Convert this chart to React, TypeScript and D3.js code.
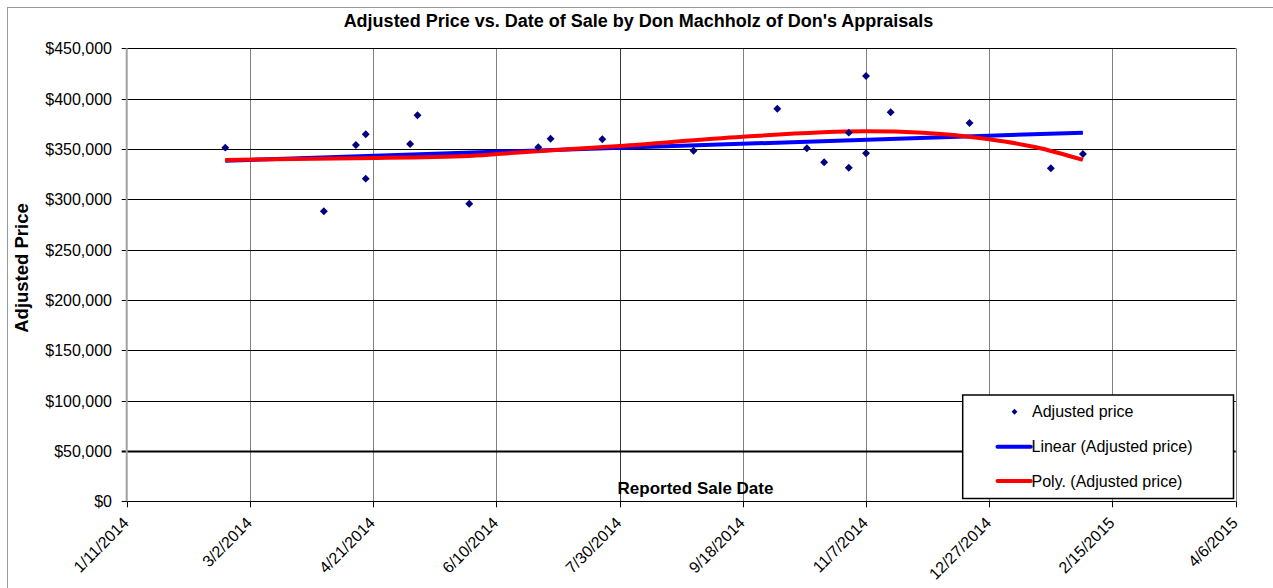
import * as d3 from 'd3'
import { useMemo } from 'react'

// values
const saleDates = [
  '2/20/2014', '4/1/2014', '4/14/2014', '4/18/2014', '4/18/2014', '5/6/2014', '5/9/2014', '5/30/2014',
  '6/27/2014', '7/2/2014', '7/23/2014', '8/29/2014', '10/2/2014', '10/14/2014', '10/21/2014', '10/31/2014',
  '10/31/2014', '11/7/2014', '11/7/2014', '11/17/2014', '12/19/2014', '1/21/2015', '2/3/2015',
]
const adjustedPrices = [
  351300, 288100, 354000, 364600, 320500, 355000, 383500, 295600, 351700, 360200, 359600, 348300, 390000,
  350700, 336800, 366200, 331400, 422500, 345700, 386400, 375800, 330800, 345000,
]

const linearDates = ['2/20/2014', '2/3/2015']
const linearValues = [338400, 366200]

const polyDates = [
  '2/20/2014', '4/14/2014', '5/30/2014', '6/19/2014', '7/30/2014', '9/18/2014', '11/7/2014', '11/30/2014',
  '12/27/2014', '1/15/2015', '2/3/2015',
]
const polyValues = [339100, 340800, 343000, 346500, 353000, 362200, 367500, 366200, 359600, 351700, 339100]

const xTickLabels = [
  '1/11/2014', '3/2/2014', '4/21/2014', '6/10/2014', '7/30/2014', '9/18/2014', '11/7/2014', '12/27/2014',
  '2/15/2015', '4/6/2015',
]
const yTicks = [0, 50000, 100000, 150000, 200000, 250000, 300000, 350000, 400000, 450000]

const legendLabels = ['Adjusted price', 'Linear (Adjusted price)', 'Poly. (Adjusted price)']

const W = 1273
const H = 588
const FONT = "'Liberation Sans', Arial, sans-serif"
const parse = d3.utcParse('%m/%d/%Y')

export default function App() {
  const x = useMemo(
    () =>
      d3
        .scaleUtc()
        .domain([parse(xTickLabels[0])!, parse(xTickLabels[xTickLabels.length - 1])!])
        .range([126.7, 1235.7]),
    []
  )
  const y = useMemo(() => d3.scaleLinear().domain([0, 450000]).range([501.3, 48.3]), [])

  const points = saleDates.map((d, i) => ({ date: parse(d)!, value: adjustedPrices[i] }))
  const linear = linearDates.map((d, i) => ({ date: parse(d)!, value: linearValues[i] }))
  const poly = polyDates.map((d, i) => ({ date: parse(d)!, value: polyValues[i] }))

  const line = d3
    .line<{ date: Date; value: number }>()
    .x((p) => x(p.date))
    .y((p) => y(p.value))
  const linLine = line(linear) ?? ''
  const polyLine = line.curve(d3.curveMonotoneX)(poly) ?? ''

  const diamond = d3.symbol(d3.symbolDiamond2, 40)()
  const smallDiamond = d3.symbol(d3.symbolDiamond2, 22)()

  const [x0, x1] = x.range()
  const [yBottom, yTop] = y.range()

  const legend = { left: 962.7, top: 395, width: 270.8, height: 103.5 }

  return (
    <svg
      width={W}
      height={H}
      style={{ position: 'absolute', left: 0, top: 0, background: '#fff', fontFamily: FONT }}
    >
      {/* chart area border (only top and left visible) */}
      <rect x={7.5} y={7.5} width={W + 20} height={H + 20} fill="#fff" stroke="#9a9a9a" strokeWidth={1} />

      <text x={638.5} y={27} textAnchor="middle" fontSize={18} fontWeight="bold" fill="#000">
        Adjusted Price vs. Date of Sale by Don Machholz of Don's Appraisals
      </text>

      {/* vertical grid */}
      {xTickLabels.map((t, i) => {
        const px = Math.round(x(parse(t)!)) + 0.5
        const dark = t === '7/30/2014'
        return (
          <g key={t}>
            {i > 0 && <line x1={px} x2={px} y1={yTop} y2={yBottom} stroke={dark ? '#3a3a3a' : '#808080'} strokeWidth={1} />}
            <line x1={px} x2={px} y1={yBottom} y2={yBottom + 6} stroke="#000" strokeWidth={1} />
          </g>
        )
      })}

      {/* horizontal grid */}
      {yTicks.map((v) => {
        const py = Math.round(y(v)) + 0.5
        return (
          <g key={v}>
            <line
              x1={x0 - 5}
              x2={x1}
              y1={py}
              y2={py}
              stroke="#000"
              strokeWidth={v === 50000 ? 2.2 : 1}
            />
            <text x={112} y={py} dy="0.36em" textAnchor="end" fontSize={16} fill="#000">
              {d3.format('$,')(v)}
            </text>
          </g>
        )
      })}

      {/* left axis */}
      <line x1={x0} x2={x0} y1={yTop} y2={yBottom} stroke="#a0a0a0" strokeWidth={2} />

      {/* x tick labels */}
      {xTickLabels.map((t) => (
        <text
          key={t}
          transform={`translate(${x(parse(t)!) + 3},524) rotate(-45)`}
          textAnchor="end"
          fontSize={16}
          fill="#000"
        >
          {t}
        </text>
      ))}

      <text x={695.5} y={494} textAnchor="middle" fontSize={17} fontWeight="bold" fill="#000">
        Reported Sale Date
      </text>
      <text transform="translate(28,268) rotate(-90)" textAnchor="middle" fontSize={18.5} fontWeight="bold" fill="#000">
        Adjusted Price
      </text>

      {/* trend lines */}
      <path d={linLine} fill="none" stroke="#0000ff" strokeWidth={4} />
      <path d={polyLine} fill="none" stroke="#ff0000" strokeWidth={4} />

      {/* data points */}
      {points.map((p, i) => (
        <path key={i} d={diamond ?? ''} transform={`translate(${x(p.date)},${y(p.value)})`} fill="#000080" />
      ))}

      {/* legend */}
      <g>
        <rect
          x={legend.left}
          y={legend.top}
          width={legend.width}
          height={legend.height}
          fill="#fff"
          stroke="#000"
          strokeWidth={1.5}
        />
        <path d={smallDiamond ?? ''} transform="translate(1014.5,411.7)" fill="#000080" />
        <text x={1032} y={417} fontSize={16} fill="#000">
          {legendLabels[0]}
        </text>
        <line x1={997.5} x2={1030.7} y1={446.7} y2={446.7} stroke="#0000ff" strokeWidth={4} strokeLinecap="round" />
        <text x={1031.5} y={452} fontSize={16} fill="#000">
          {legendLabels[1]}
        </text>
        <line x1={997.5} x2={1030.7} y1={481} y2={481} stroke="#ff0000" strokeWidth={4} strokeLinecap="round" />
        <text x={1031.5} y={486.5} fontSize={16} fill="#000">
          {legendLabels[2]}
        </text>
      </g>
    </svg>
  )
}
